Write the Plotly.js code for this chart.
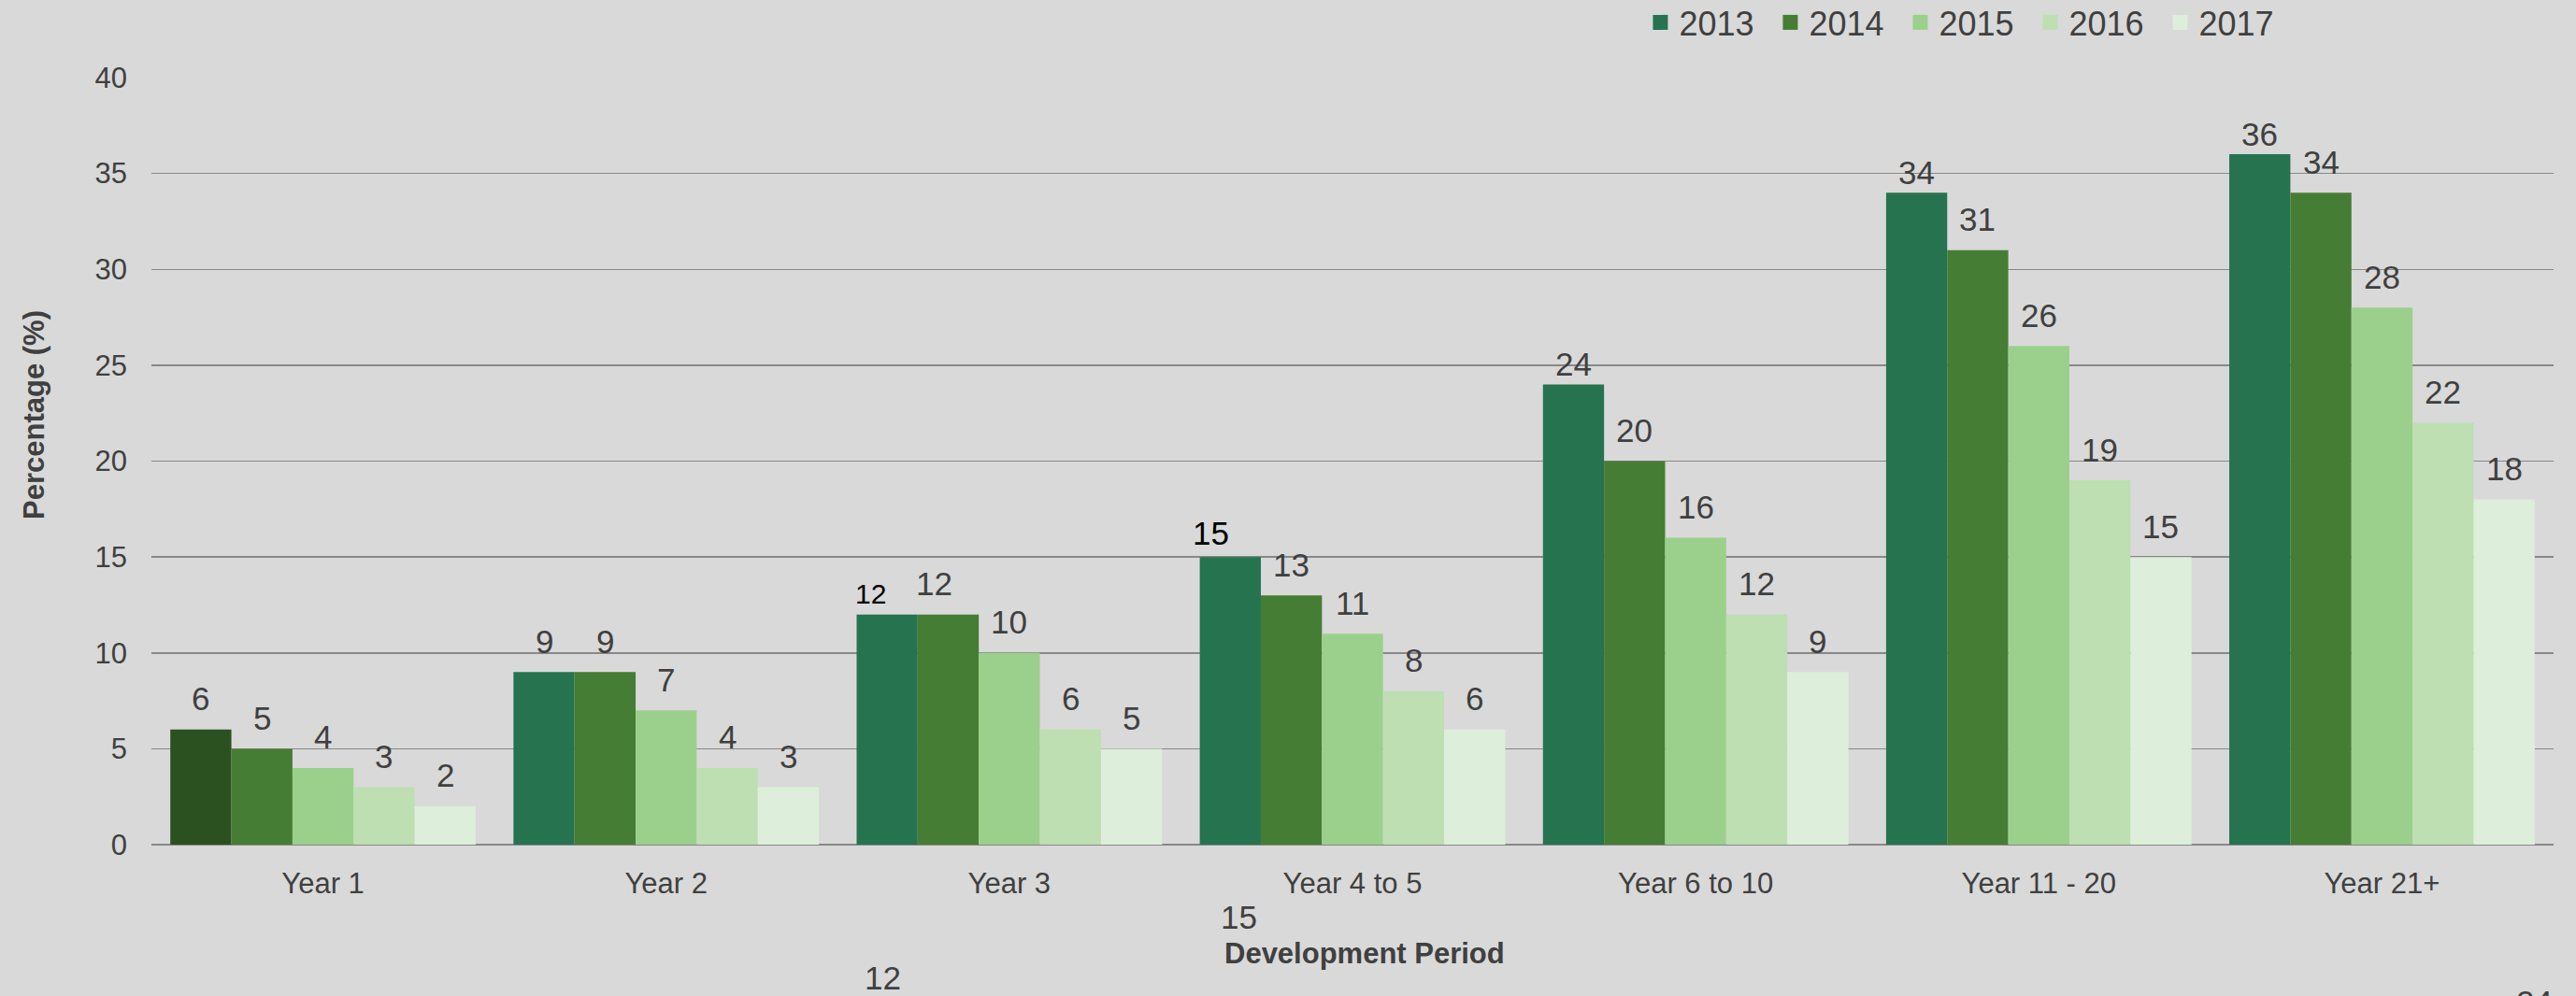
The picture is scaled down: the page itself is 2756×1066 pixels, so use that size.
<!DOCTYPE html>
<html><head><meta charset="utf-8">
<script src="https://cdn.plot.ly/plotly-3.0.1.min.js"></script>
<style>html,body{margin:0;padding:0;background:#d9d9d9;} #chart{width:2756px;height:1066px;}</style>
</head><body><div id="chart"></div>
<script>
// ---- data ----
const categories = ["Year 1", "Year 2", "Year 3", "Year 4 to 5", "Year 6 to 10", "Year 11 - 20", "Year 21+"];
const seriesNames = ["2013", "2014", "2015", "2016", "2017"];
const v2013 = [6, 9, 12, 15, 24, 34, 36];
const v2014 = [5, 9, 12, 13, 20, 31, 34];
const v2015 = [4, 7, 10, 11, 16, 26, 28];
const v2016 = [3, 4, 6, 8, 12, 19, 22];
const v2017 = [2, 3, 5, 6, 9, 15, 18];
const yTickVals = [0, 5, 10, 15, 20, 25, 30, 35, 40];
const yAxisTitle = "Percentage (%)";
const xAxisTitle = "Development Period";

// ---- style ----
const seriesValues = [v2013, v2014, v2015, v2016, v2017];
const colors = ["#267350", "#467D34", "#9BD08C", "#BDDFB2", "#DDEFDA"];
const firstBarColor = "#2C5121";
const textColor = "#404040";
const font = "Liberation Sans, Arial, sans-serif";
const bargap = 0.11;
const W = 2756, H = 1066, mL = 162, mR = 24, mT = 83, mB = 162;
const plotW = W - mL - mR, plotH = H - mT - mB;

const barTraces = seriesNames.map((name, j) => ({
  type: "bar",
  name: name,
  x: categories,
  y: seriesValues[j],
  showlegend: false,
  marker: {
    color: j === 0 ? seriesValues[j].map((_, i) => i === 0 ? firstBarColor : colors[j]) : colors[j],
    line: {width: 0}
  },
  hoverinfo: "skip"
}));

// legend-only entries (square swatches in the series colours)
const legendTraces = seriesNames.map((name, j) => ({
  type: "scatter",
  mode: "markers",
  name: name,
  x: [null], y: [null],
  showlegend: true,
  marker: {symbol: "square", size: 18, color: colors[j], line: {width: 0}},
  hoverinfo: "skip"
}));

// label offsets (style): default gap above bar; some labels sit closer / shifted
function labelStyle(i, j) {
  let s = {yshift: 11.5, xshift: 0, color: textColor, size: 35};
  if (j === 0 && i >= 4) s.yshift = 0;
  if (j === 0 && i === 2) { s.color = "#000000"; s.size = 30; s.xshift = -18; s.yshift = 3.5; }
  if (j === 0 && i === 3) { s.color = "#000000"; s.xshift = -21; s.yshift = 4.5; }
  if (j === 1 && i === 2) { s.xshift = -15; }
  return s;
}

const annotations = [];
seriesValues.forEach((vals, j) => {
  vals.forEach((v, i) => {
    const s = labelStyle(i, j);
    annotations.push({
      x: i + (j - 2) * (1 - bargap) / seriesNames.length,
      y: v, xref: "x", yref: "y",
      text: String(v), showarrow: false,
      xanchor: "center", yanchor: "bottom",
      xshift: s.xshift, yshift: s.yshift,
      font: {family: font, size: s.size, color: s.color}
    });
  });
});

// stray (displaced) 2013 labels below the axis, as in the reference
const px2x = px => (px - mL) / plotW;
const py2y = py => (mT + plotH - py) / plotH;
[[3, 1325, 982], [2, 945, 1046], [4, 2711, 1072.5]].forEach(([i, px, py]) => {
  annotations.push({
    x: px2x(px), y: py2y(py), xref: "paper", yref: "paper",
    text: String(v2013[i]), showarrow: false, xanchor: "center", yanchor: "middle",
    font: {family: font, size: 35, color: textColor}
  });
});

// axis titles
annotations.push({
  x: px2x(36), y: py2y(444), xref: "paper", yref: "paper",
  text: yAxisTitle, textangle: -90, showarrow: false, xanchor: "center", yanchor: "middle",
  font: {family: font, size: 31, color: textColor, weight: 700}
});
annotations.push({
  x: px2x(1460), y: py2y(1020), xref: "paper", yref: "paper",
  text: xAxisTitle, showarrow: false, xanchor: "center", yanchor: "middle",
  font: {family: font, size: 31, color: textColor, weight: 700}
});

const layout = {
  width: W, height: H,
  paper_bgcolor: "#D9D9D9", plot_bgcolor: "#D9D9D9",
  margin: {l: mL, r: mR, t: mT, b: mB, pad: 0},
  barmode: "group", bargap: bargap, bargroupgap: 0,
  font: {family: font, color: textColor},
  showlegend: true,
  legend: {
    orientation: "h", x: 0.6204, xanchor: "left",
    yref: "container", y: 1 - 24 / H, yanchor: "middle",
    font: {family: font, size: 36, color: textColor},
    bgcolor: "rgba(0,0,0,0)", entrywidth: 94, entrywidthmode: "pixels",
    traceorder: "normal", itemsizing: "trace"
  },
  xaxis: {
    type: "category", categoryorder: "array", categoryarray: categories,
    showgrid: false, showline: false, zeroline: false,
    ticks: "", tickfont: {family: font, size: 31, color: textColor},
    ticklabelstandoff: 20, fixedrange: true
  },
  yaxis: {
    range: [0, 40], tickvals: yTickVals, showgrid: true,
    gridcolor: "#888888", gridwidth: 1.5,
    zeroline: true, zerolinecolor: "#888888", zerolinewidth: 2,
    showline: false, ticks: "",
    tickfont: {family: font, size: 31, color: textColor},
    ticklabelstandoff: 25, fixedrange: true
  },
  annotations: annotations,
  hovermode: false
};

Plotly.newPlot("chart", barTraces.concat(legendTraces), layout, {displayModeBar: false, staticPlot: true});
</script>
</body></html>
